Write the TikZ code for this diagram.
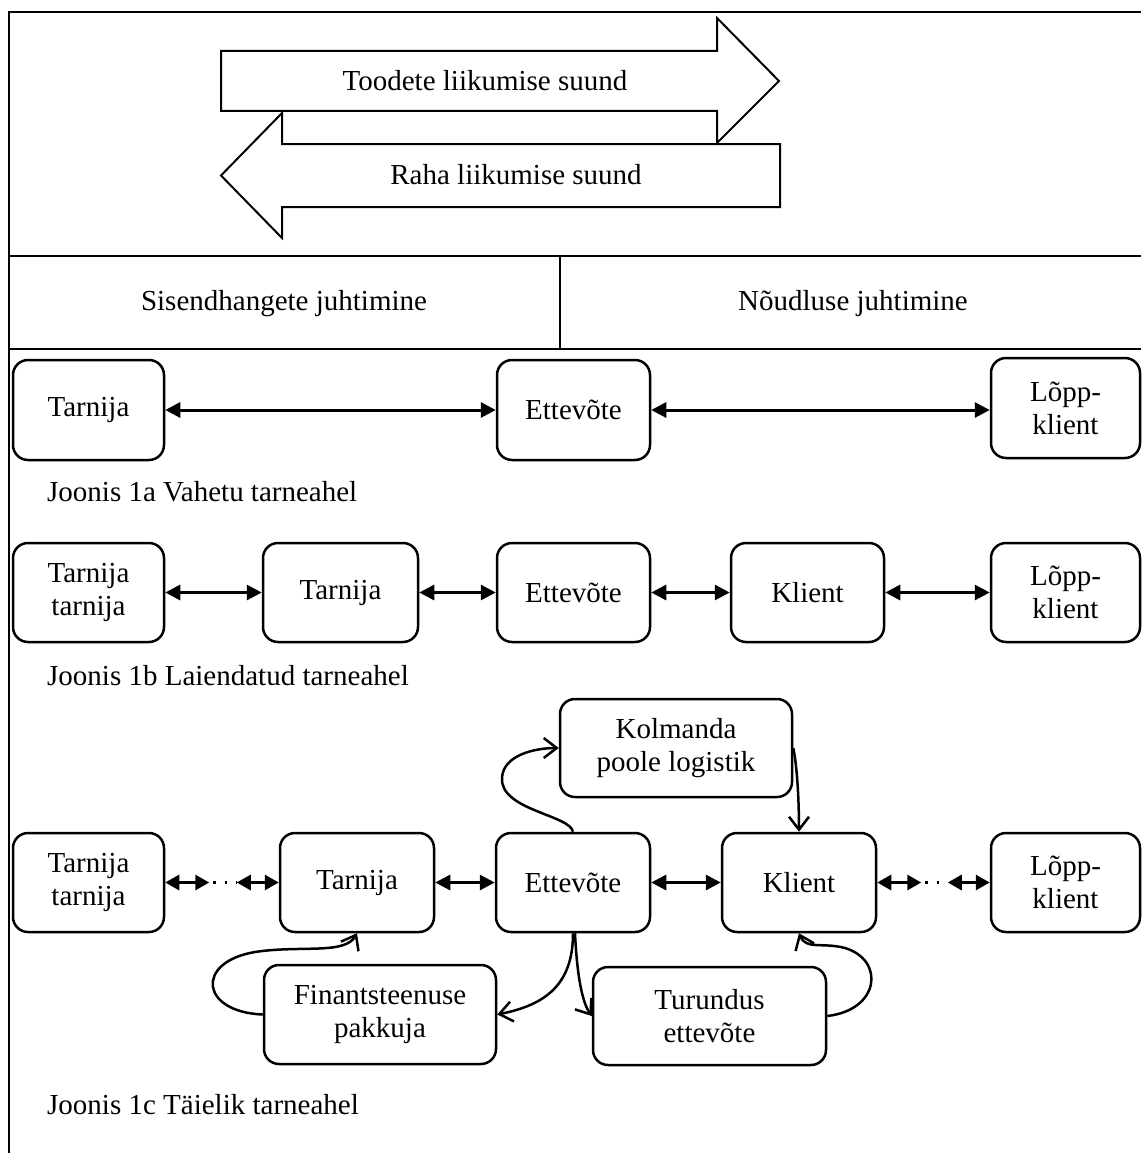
\documentclass[tikz,border=0pt]{standalone}
\usepackage{fontspec}
\setmainfont{Liberation Serif}
\usetikzlibrary{arrows.meta,calc}
\newcommand\figfont{\fontsize{29}{33}\selectfont}
\tikzset{
  box/.style={draw, line width=2.5pt, rounded corners=15pt, inner sep=0pt, align=center, font=\figfont},
  frameline/.style={line width=2pt},
  dbl/.style={line width=3pt, {Triangle[length=15pt,width=15pt]}-{Triangle[length=15pt,width=15pt]}},
  sdbl/.style={line width=3pt, {Triangle[length=14pt,width=15pt]}-{Triangle[length=14pt,width=15pt]}},
  dotline/.style={line width=2.5pt, dash pattern=on 2.5pt off 9pt, dash phase=-4pt},
  curv/.style={line width=2.5pt, -{Straight Barb[length=13pt,width=20pt]}},
  bigarrow/.style={draw, fill=white, line width=2pt, line join=miter},
  lbl/.style={font=\figfont, inner sep=0pt}
}
\begin{document}
\begin{tikzpicture}[x=1pt,y=-1pt]
\useasboundingbox (0,0) rectangle (1141,1153);
% frame
\draw[frameline] (9,1153) -- (9,12) -- (1141,12);
\draw[frameline] (9,256) -- (1141,256);
\draw[frameline] (9,349) -- (1141,349);
\draw[frameline] (560,256) -- (560,349);
% big arrows
\draw[bigarrow] (221,51) -- (717,51) -- (717,18) -- (779,81) -- (717,143) -- (717,111) -- (221,111) -- cycle;
\draw[bigarrow] (780,144) -- (282,144) -- (282,113) -- (221,175.5) -- (282,238) -- (282,207) -- (780,207) -- cycle;
\node[lbl] (tood) at (485,81) {Toodete liikumise suund};
\node[lbl] (raha) at (516,175) {Raha liikumise suund};
\node[lbl] (sis) at (284,304) {Sisendhangete juhtimine};
\node[lbl] (noud) at (853,304) {Nõudluse juhtimine};
% 1a
\node[box, minimum width=151pt, minimum height=100pt] (t1) at (88.5,410) {Tarnija};
\node[box, minimum width=153pt, minimum height=100pt] (e1) at (573.5,410) {Ettevõte};
\node[box, minimum width=149pt, minimum height=100pt] (l1) at (1065.5,408) {Lõpp-\\klient};
\draw[dbl] (t1.east) -- (e1.west);
\draw[dbl] (e1.east) -- (e1.east -| l1.west);
\node[lbl, anchor=west] (cap1) at (47,492) {Joonis 1a Vahetu tarneahel};
% 1b
\node[box, minimum width=151pt, minimum height=99pt] (tt2) at (88.5,592.5) {Tarnija\\tarnija};
\node[box, minimum width=155pt, minimum height=99pt] (t2) at (340.5,592.5) {Tarnija};
\node[box, minimum width=153pt, minimum height=99pt] (e2) at (573.5,592.5) {Ettevõte};
\node[box, minimum width=153pt, minimum height=99pt] (k2) at (807.5,592.5) {Klient};
\node[box, minimum width=149pt, minimum height=99pt] (l2) at (1065.5,592.5) {Lõpp-\\klient};
\draw[dbl] (tt2.east) -- (t2.west);
\draw[dbl] (t2.east) -- (e2.west);
\draw[dbl] (e2.east) -- (k2.west);
\draw[dbl] (k2.east) -- (l2.west);
\node[lbl, anchor=west] (cap2) at (47,676) {Joonis 1b Laiendatud tarneahel};
% 1c
\node[box, minimum width=232pt, minimum height=98pt] (kolm) at (676,748) {Kolmanda\\poole logistik};
\node[box, minimum width=151pt, minimum height=99pt] (tt3) at (88.5,882.5) {Tarnija\\tarnija};
\node[box, minimum width=154pt, minimum height=99pt] (t3) at (357,882.5) {Tarnija};
\node[box, minimum width=154pt, minimum height=99pt] (e3) at (573,882.5) {Ettevõte};
\node[box, minimum width=154pt, minimum height=99pt] (k3) at (799,882.5) {Klient};
\node[box, minimum width=149pt, minimum height=99pt] (l3) at (1065.5,882.5) {Lõpp-\\klient};
\node[box, minimum width=232pt, minimum height=99pt] (fin) at (380,1014.5) {Finantsteenuse\\pakkuja};
\node[box, minimum width=233pt, minimum height=98pt] (tur) at (709.5,1016) {Turundus\\ettevõte};
% straight connectors
\draw[dbl] (t3.east) -- (e3.west);
\draw[dbl] (e3.east) -- (k3.west);
\draw[sdbl] (tt3.east) -- ($(tt3.east)+(44,0)$) coordinate (p1);
\draw[dotline] (p1) -- ($(t3.west)+(-42,0)$) coordinate (p2);
\draw[sdbl] (p2) -- (t3.west);
\draw[sdbl] (k3.east) -- ($(k3.east)+(44,0)$) coordinate (q1);
\draw[dotline] (q1) -- ($(l3.west)+(-42,0)$) coordinate (q2);
\draw[sdbl] (q2) -- (l3.west);
% curved connectors
\draw[curv] (e3.north) .. controls (570,815) and (500,810) .. (502,778) .. controls (503,755) and (535,748) .. (kolm.west);
\draw[curv] (kolm.east) .. controls (797,765) and (799,800) .. (k3.north);
\draw[curv] (e3.south) .. controls (573,985) and (545,1005) .. (fin.east);
\draw[curv] ($(e3.south)+(2,0)$) .. controls (577,975) and (582,1002) .. (tur.west);
\draw[curv] (fin.west) .. controls (200,1012) and (195,962) .. (255,952) .. controls (300,945) and (345,955) .. (t3.south);
\draw[curv] (tur.east) .. controls (880,1010) and (885,960) .. (845,948) .. controls (822,942) and (806,950) .. (k3.south);
\node[lbl, anchor=west] (cap3) at (47,1105) {Joonis 1c Täielik tarneahel};
\end{tikzpicture}
\end{document}
